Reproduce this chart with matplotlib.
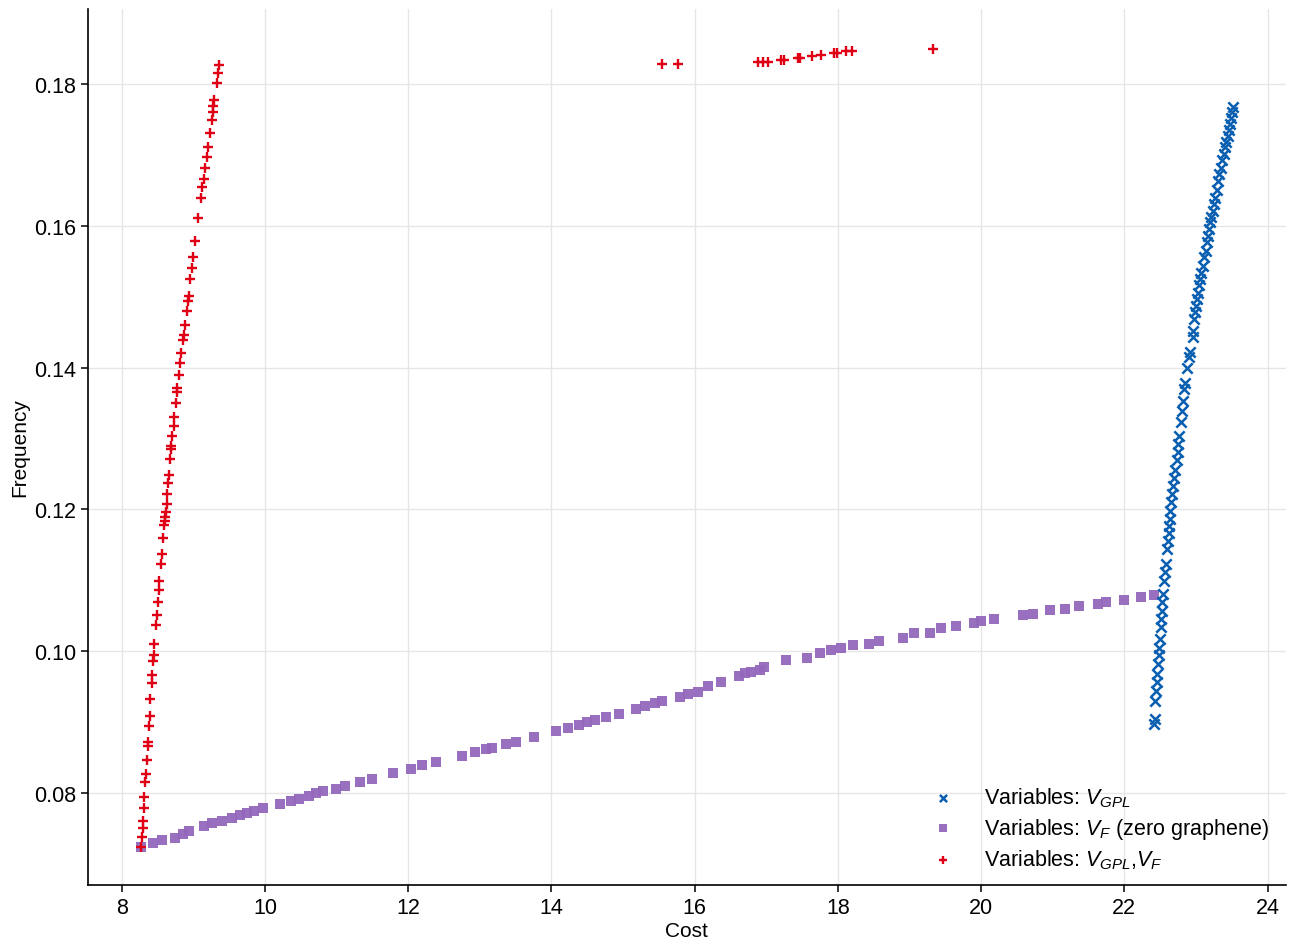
import matplotlib
matplotlib.use("Agg")
import matplotlib.pyplot as plt

plt.rcParams['font.family'] = ['Liberation Sans', 'DejaVu Sans']
plt.rcParams['mathtext.fontset'] = 'custom'
plt.rcParams['mathtext.rm'] = 'Liberation Sans'
plt.rcParams['mathtext.it'] = 'Liberation Sans:italic'

# series 1: V_GPL only (blue x)
gpl_cost = [22.415, 22.424, 22.433, 22.443, 22.452, 22.461, 22.471, 22.480, 22.485, 22.494,
            22.508, 22.517, 22.522, 22.531, 22.536, 22.555, 22.568, 22.583, 22.597, 22.611,
            22.620, 22.629, 22.638, 22.643, 22.657, 22.666, 22.684, 22.698, 22.712, 22.731,
            22.745, 22.754, 22.768, 22.792, 22.801, 22.815, 22.838, 22.852, 22.876, 22.908,
            22.922, 22.954, 22.964, 22.978, 22.992, 23.001, 23.010, 23.024, 23.038, 23.057,
            23.075, 23.094, 23.117, 23.136, 23.155, 23.169, 23.187, 23.201, 23.215, 23.234,
            23.253, 23.271, 23.289, 23.313, 23.327, 23.345, 23.369, 23.387, 23.411, 23.425,
            23.443, 23.457, 23.476, 23.490, 23.504, 23.522]
gpl_freq = [0.0897, 0.0904, 0.0930, 0.0944, 0.0956, 0.0968, 0.0982, 0.0994, 0.1005, 0.1017,
            0.1034, 0.1045, 0.1057, 0.1069, 0.1081, 0.1099, 0.1111, 0.1123, 0.1144, 0.1156,
            0.1166, 0.1177, 0.1186, 0.1198, 0.1210, 0.1222, 0.1233, 0.1245, 0.1255, 0.1269,
            0.1281, 0.1292, 0.1304, 0.1323, 0.1339, 0.1353, 0.1370, 0.1379, 0.1399, 0.1415,
            0.1422, 0.1443, 0.1452, 0.1469, 0.1478, 0.1487, 0.1497, 0.1506, 0.1516, 0.1525,
            0.1534, 0.1544, 0.1556, 0.1565, 0.1577, 0.1586, 0.1595, 0.1605, 0.1612, 0.1621,
            0.1631, 0.1640, 0.1650, 0.1663, 0.1673, 0.1682, 0.1693, 0.1701, 0.1712, 0.1719,
            0.1727, 0.1735, 0.1744, 0.1752, 0.1760, 0.1768]

# series 2: V_F only, zero graphene (purple squares)
vf_cost = [8.275, 8.437, 8.563, 8.749, 8.856, 8.935, 9.145, 9.266, 9.400, 9.545,
           9.657, 9.749, 9.843, 9.973, 10.205, 10.359, 10.475, 10.615, 10.717, 10.810,
           10.987, 11.113, 11.322, 11.494, 11.787, 12.043, 12.197, 12.392, 12.750, 12.928,
           13.081, 13.169, 13.370, 13.500, 13.751, 14.068, 14.235, 14.383, 14.500, 14.612,
           14.756, 14.937, 15.175, 15.310, 15.450, 15.542, 15.789, 15.905, 16.054, 16.184,
           16.371, 16.617, 16.710, 16.790, 16.906, 16.975, 17.278, 17.571, 17.757, 17.906,
           18.046, 18.218, 18.431, 18.581, 18.906, 19.069, 19.288, 19.442, 19.651, 19.907,
           20.000, 20.186, 20.581, 20.730, 20.963, 21.173, 21.372, 21.638, 21.745, 22.000,
           22.233, 22.410]
vf_freq = [0.0723, 0.0729, 0.0733, 0.0736, 0.0742, 0.0746, 0.0753, 0.0757, 0.0761, 0.0765,
           0.0769, 0.0772, 0.0775, 0.0779, 0.0785, 0.0788, 0.0791, 0.0795, 0.0800, 0.0802,
           0.0806, 0.0810, 0.0815, 0.0820, 0.0828, 0.0834, 0.0839, 0.0843, 0.0852, 0.0858,
           0.0862, 0.0864, 0.0869, 0.0872, 0.0879, 0.0887, 0.0892, 0.0896, 0.0900, 0.0903,
           0.0907, 0.0912, 0.0918, 0.0923, 0.0927, 0.0930, 0.0935, 0.0940, 0.0943, 0.0951,
           0.0957, 0.0965, 0.0969, 0.0971, 0.0974, 0.0977, 0.0987, 0.0990, 0.0997, 0.1001,
           0.1005, 0.1009, 0.1010, 0.1015, 0.1019, 0.1025, 0.1026, 0.1032, 0.1036, 0.1040,
           0.1042, 0.1045, 0.1051, 0.1053, 0.1058, 0.1060, 0.1063, 0.1067, 0.1069, 0.1072,
           0.1077, 0.1079]

# series 3: V_GPL and V_F (red +)
both_cost = [8.274, 8.283, 8.292, 8.297, 8.306, 8.311, 8.330, 8.339, 8.348, 8.362,
             8.367, 8.376, 8.390, 8.400, 8.418, 8.422, 8.436, 8.446, 8.450, 8.483,
             8.492, 8.506, 8.515, 8.525, 8.543, 8.557, 8.571, 8.590, 8.599, 8.608,
             8.617, 8.627, 8.636, 8.650, 8.655, 8.673, 8.687, 8.687, 8.701, 8.724,
             8.734, 8.756, 8.770, 8.776, 8.798, 8.817, 8.831, 8.854, 8.864, 8.882,
             8.910, 8.924, 8.933, 8.957, 8.975, 8.998, 9.026, 9.063, 9.104, 9.124,
             9.142, 9.160, 9.188, 9.202, 9.230, 9.258, 9.272, 9.281, 9.295, 9.333,
             9.351, 9.365,
             15.55, 15.77, 16.89, 16.96, 17.02, 17.21, 17.25, 17.44, 17.47, 17.64,
             17.77, 17.94, 17.99, 18.11, 18.20, 19.33]
both_freq = [0.0724, 0.0738, 0.0750, 0.0761, 0.0778, 0.0794, 0.0815, 0.0827, 0.0846, 0.0866,
             0.0872, 0.0895, 0.0909, 0.0933, 0.0955, 0.0966, 0.0986, 0.0994, 0.1010, 0.1037,
             0.1051, 0.1070, 0.1086, 0.1099, 0.1123, 0.1137, 0.1159, 0.1178, 0.1183, 0.1189,
             0.1197, 0.1208, 0.1222, 0.1237, 0.1249, 0.1271, 0.1285, 0.1290, 0.1303, 0.1318,
             0.1331, 0.1350, 0.1365, 0.1371, 0.1390, 0.1407, 0.1421, 0.1439, 0.1446, 0.1460,
             0.1480, 0.1494, 0.1501, 0.1525, 0.1541, 0.1556, 0.1579, 0.1611, 0.1640, 0.1655,
             0.1666, 0.1682, 0.1697, 0.1712, 0.1731, 0.1750, 0.1761, 0.1769, 0.1778, 0.1802,
             0.1816, 0.1827,
             0.1829, 0.1829, 0.1831, 0.1831, 0.1831, 0.1834, 0.1834, 0.1837, 0.1837, 0.1840,
             0.1841, 0.1844, 0.1844, 0.1847, 0.1847, 0.1849]

fig = plt.figure(figsize=(12.9, 9.45), dpi=100)
ax = fig.add_axes([0.068, 0.0624, 0.929, 0.927])

ax.scatter(gpl_cost, gpl_freq, marker='x', s=55, linewidths=1.8, color='#0a5fb0',
           label=r'Variables: $V_{GPL}$', zorder=3)
ax.scatter(vf_cost, vf_freq, marker='s', s=60, color='#9467bd', alpha=0.95, linewidths=0,
           label=r'Variables: $V_F$ (zero graphene)', zorder=2)
ax.scatter(both_cost, both_freq, marker='+', s=55, linewidths=1.7, color='#e00016',
           label=r'Variables: $V_{GPL}$,$V_F$', zorder=4)

ax.set_xlim(7.525, 24.26)
ax.set_ylim(0.0670, 0.1906)
ax.set_xticks([8, 10, 12, 14, 16, 18, 20, 22, 24])
ax.set_yticks([0.08, 0.10, 0.12, 0.14, 0.16, 0.18])
ax.set_yticklabels(['0.08', '0.10', '0.12', '0.14', '0.16', '0.18'])
ax.grid(True, color='#e6e6e6', linewidth=1.0)
ax.set_axisbelow(True)
for s in ['top', 'right']:
    ax.spines[s].set_visible(False)
for s in ['left', 'bottom']:
    ax.spines[s].set_linewidth(1.2)
ax.tick_params(labelsize=15.5, length=5, width=1.1)
ax.set_xlabel('Cost', fontsize=15, labelpad=2)
ax.set_ylabel('Frequency', fontsize=15, labelpad=3)

ax.legend(loc='lower right', frameon=False, fontsize=15.5, markerscale=0.7,
          handletextpad=0.9, labelspacing=0.3, bbox_to_anchor=(1.002, -0.006))

fig.savefig('out.png', dpi=100)
